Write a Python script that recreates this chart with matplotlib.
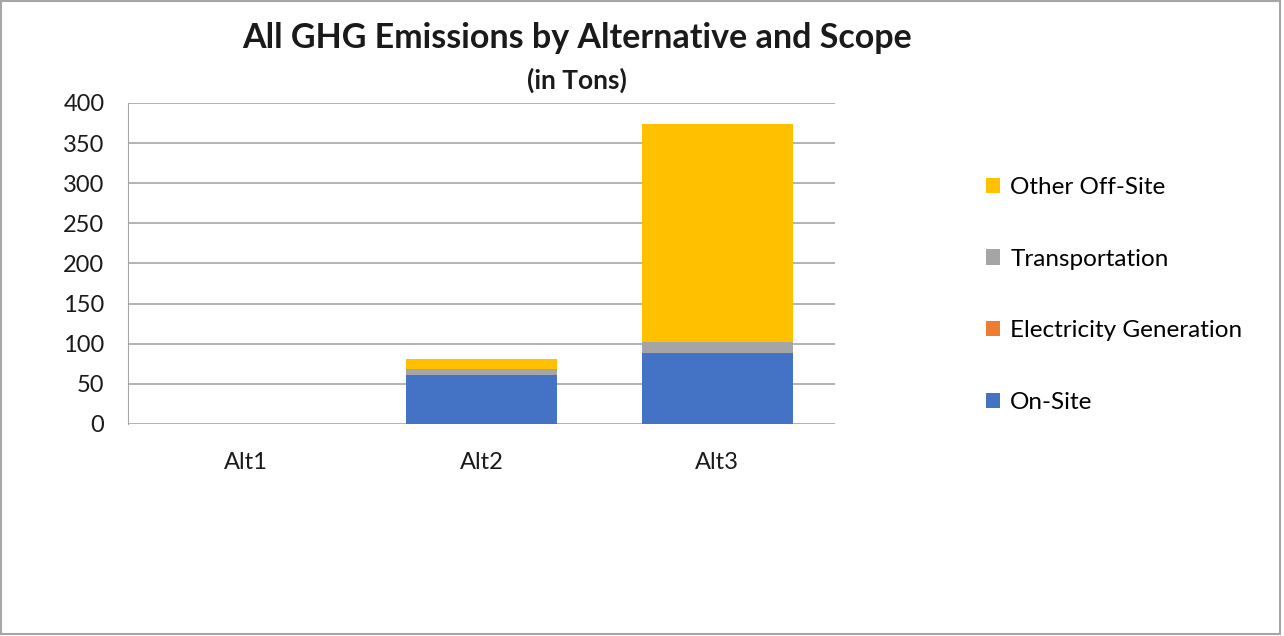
import matplotlib
matplotlib.use('Agg')
import matplotlib.pyplot as plt
from matplotlib.patches import Rectangle
import numpy as np

plt.rcParams['font.family'] = ['Lato', 'DejaVu Sans']

alternatives = ['Alt1', 'Alt2', 'Alt3']
on_site = [0, 61, 88]
electricity = [0, 0, 0]
transportation = [0, 8, 14.5]
other_off_site = [0, 12, 271.5]

series = [
    ('On-Site', on_site, '#4472C4'),
    ('Electricity Generation', electricity, '#ED7D31'),
    ('Transportation', transportation, '#A5A5A5'),
    ('Other Off-Site', other_off_site, '#FFC000'),
]

fig = plt.figure(figsize=(12.84, 6.36), dpi=100)
ax = fig.add_axes([128 / 1284, 1 - 424 / 636, (835 - 128) / 1284, (424 - 103) / 636])

x = np.arange(len(alternatives))
bottom = np.zeros(len(alternatives))
handles = []
for name, vals, color in series:
    b = ax.bar(x, vals, width=0.64, bottom=bottom, color=color, label=name)
    handles.append(b)
    bottom += np.array(vals)

ax.set_xlim(-0.5, 2.5)
ax.set_ylim(0, 400)
ax.set_yticks(range(0, 401, 50))
ax.set_xticks(x)
ax.set_xticklabels(alternatives)
ax.grid(axis='y', color='#A6A6A6', linewidth=1.2)
ax.set_axisbelow(True)
for side in ['top', 'right', 'bottom']:
    ax.spines[side].set_visible(False)
ax.spines['left'].set_color('#A6A6A6')
ax.tick_params(axis='both', length=0, labelsize=17, colors='#1a1a1a')
ax.tick_params(axis='y', pad=17)
ax.tick_params(axis='x', pad=20)

fig.text(577 / 1284, 1 - 38 / 636, 'All GHG Emissions by Alternative and Scope',
         ha='center', va='center', fontsize=24.5, fontweight='bold', color='#1a1a1a')
fig.text(577 / 1284, 1 - 80 / 636, '(in Tons)',
         ha='center', va='center', fontsize=19, fontweight='bold', color='#1a1a1a')

leg = fig.legend(handles[::-1], [s[0] for s in series][::-1],
                 loc='center left', bbox_to_anchor=(964 / 1284, 1 - 295 / 636),
                 frameon=False, fontsize=17.5, labelspacing=2.08,
                 handlelength=0.6, handleheight=0.6, handletextpad=0.4)

# figure border
fig.patches.append(Rectangle((0.0008, 0.003), 0.996, 0.995, transform=fig.transFigure,
                             fill=False, edgecolor='#A6A6A6', linewidth=1.5))

fig.savefig('out.png', dpi=100)
